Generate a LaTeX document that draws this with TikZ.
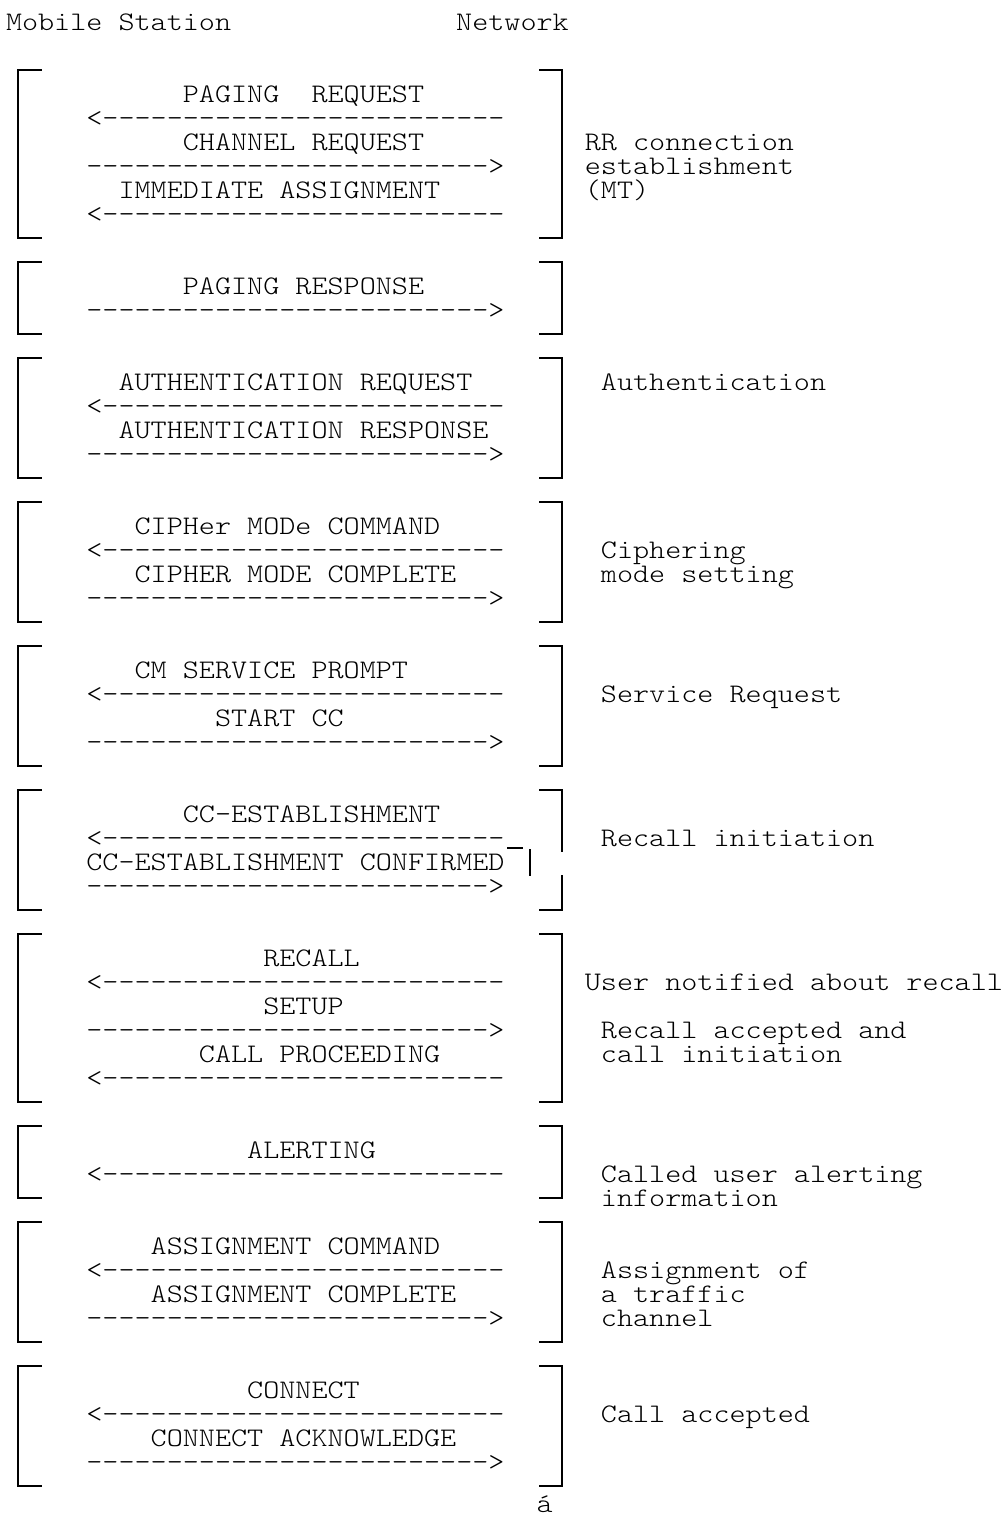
\documentclass[tikz,border=0pt]{standalone}
\usepackage{fontspec}
\setmonofont{Latin Modern Mono Light}[FakeStretch=1.1429]
\tikzset{
  mtxt/.style={anchor=base west, inner sep=0pt, outer sep=0pt, font=\ttfamily\fontsize{26.8}{24}\selectfont},
  vln/.style={line width=1.3pt},
  hln/.style={line width=2.2pt},
}
% column, row, name, text
\newcommand{\Tx}[4]{\node[mtxt] (#3) at ({6+#1*16.08},{30+#2*24}) {#4};}
% bracket corners + left vertical for rows top/bottom
\newcommand{\LBr}[2]{%
  \draw[vln] (18,{22+#1*24}) -- (18,{22+#2*24});
  \draw[hln] (17.4,{22+#1*24}) -- (42,{22+#1*24});
  \draw[hln] (17.4,{22+#2*24}) -- (42,{22+#2*24});
  \draw[hln] (539,{22+#1*24}) -- (562.6,{22+#1*24});
  \draw[hln] (539,{22+#2*24}) -- (562.6,{22+#2*24});}
\newcommand{\RBr}[2]{\draw[vln] (562,{22+#1*24}) -- (562,{22+#2*24});}
\newcommand{\ArL}{<-------------------------}
\newcommand{\ArR}{------------------------->}
\begin{document}
\begin{tikzpicture}[x=1pt,y=-1pt]
\useasboundingbox[fill=white] (0,0) rectangle (1004,1519);
\Tx{0}{0}{ms}{Mobile Station}
\Tx{28}{0}{nw}{Network}
% block 1
\LBr{2}{9}\RBr{2}{9}
\Tx{11}{3}{m1}{PAGING~~REQUEST}
\Tx{5}{4}{a1}{\ArL}
\Tx{11}{5}{m2}{CHANNEL REQUEST}
\Tx{5}{6}{a2}{\ArR}
\Tx{7}{7}{m3}{IMMEDIATE ASSIGNMENT}
\Tx{5}{8}{a3}{\ArL}
\Tx{36}{5}{l1}{RR connection}
\Tx{36}{6}{l2}{establishment}
\Tx{36}{7}{l3}{(MT)}
% block 2
\LBr{10}{13}\RBr{10}{13}
\Tx{11}{11}{m4}{PAGING RESPONSE}
\Tx{5}{12}{a4}{\ArR}
% block 3
\LBr{14}{19}\RBr{14}{19}
\Tx{7}{15}{m5}{AUTHENTICATION REQUEST}
\Tx{5}{16}{a5}{\ArL}
\Tx{7}{17}{m6}{AUTHENTICATION RESPONSE}
\Tx{5}{18}{a6}{\ArR}
\Tx{37}{15}{l4}{Authentication}
% block 4
\LBr{20}{25}\RBr{20}{25}
\Tx{8}{21}{m7}{CIPHer MODe COMMAND}
\Tx{5}{22}{a7}{\ArL}
\Tx{8}{23}{m8}{CIPHER MODE COMPLETE}
\Tx{5}{24}{a8}{\ArR}
\Tx{37}{22}{l5}{Ciphering}
\Tx{37}{23}{l6}{mode setting}
% block 5
\LBr{26}{31}\RBr{26}{31}
\Tx{8}{27}{m9}{CM SERVICE PROMPT}
\Tx{5}{28}{a9}{\ArL}
\Tx{13}{29}{m10}{START CC}
\Tx{5}{30}{a10}{\ArR}
\Tx{37}{28}{l7}{Service Request}
% block 6
\LBr{32}{37}
\draw[vln] (562,790) -- (562,852);
\draw[vln] (562,875) -- (562,910);
\draw[vln] (507,848) -- (523,848);
\draw[vln] (530,849) -- (530,876);
\Tx{11}{33}{m11}{CC-ESTABLISHMENT}
\Tx{5}{34}{a11}{\ArL}
\Tx{5}{35}{m12}{CC-ESTABLISHMENT CONFIRMED}
\Tx{5}{36}{a12}{\ArR}
\Tx{37}{34}{l8}{Recall initiation}
% block 7
\LBr{38}{45}\RBr{38}{45}
\Tx{16}{39}{m13}{RECALL}
\Tx{5}{40}{a13}{\ArL}
\Tx{16}{41}{m14}{SETUP}
\Tx{5}{42}{a14}{\ArR}
\Tx{12}{43}{m15}{CALL PROCEEDING}
\Tx{5}{44}{a15}{\ArL}
\Tx{36}{40}{l9}{User notified about recall}
\Tx{37}{42}{l10}{Recall accepted and}
\Tx{37}{43}{l11}{call initiation}
% block 8
\LBr{46}{49}\RBr{46}{49}
\Tx{15}{47}{m16}{ALERTING}
\Tx{5}{48}{a16}{\ArL}
\Tx{37}{48}{l12}{Called user alerting}
\Tx{37}{49}{l13}{information}
% block 9
\LBr{50}{55}\RBr{50}{55}
\Tx{9}{51}{m17}{ASSIGNMENT COMMAND}
\Tx{5}{52}{a17}{\ArL}
\Tx{9}{53}{m18}{ASSIGNMENT COMPLETE}
\Tx{5}{54}{a18}{\ArR}
\Tx{37}{52}{l14}{Assignment of}
\Tx{37}{53}{l15}{a traffic}
\Tx{37}{54}{l16}{channel}
% block 10
\LBr{56}{61}\RBr{56}{61}
\Tx{15}{57}{m19}{CONNECT}
\Tx{5}{58}{a19}{\ArL}
\Tx{9}{59}{m20}{CONNECT ACKNOWLEDGE}
\Tx{5}{60}{a20}{\ArR}
\Tx{37}{58}{l17}{Call accepted}
\node[mtxt] (x1) at ({6+33*16.08},1512) {á};
\end{tikzpicture}
\end{document}
